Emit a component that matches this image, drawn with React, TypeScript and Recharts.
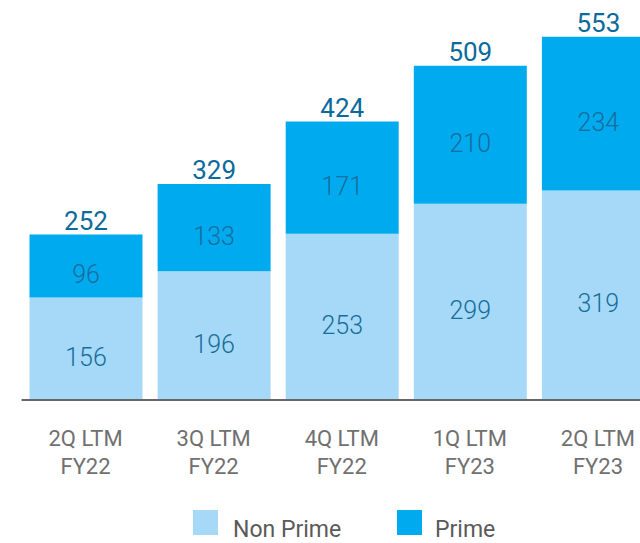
import React from "react";
import { BarChart, Bar, XAxis, YAxis, LabelList, Legend } from "recharts";

const categories = ["2Q LTM|FY22", "3Q LTM|FY22", "4Q LTM|FY22", "1Q LTM|FY23", "2Q LTM|FY23"];
const nonPrime = [156, 196, 253, 299, 319];
const prime = [96, 133, 171, 210, 234];
const totals = [252, 329, 424, 509, 553];

const data = categories.map((c, i) => ({
  name: c,
  nonPrime: nonPrime[i],
  prime: prime[i],
  total: totals[i],
}));

const FONT = "Roboto, 'Noto Sans', sans-serif";
const LIGHT = "#a6d9f7";
const DARK = "#00aaef";
const INNER_TEXT = "#176d9c";
const TOTAL_TEXT = "#0b6a9c";
const GRAY = "#707070";

const InnerLabel = (props: any) => {
  const { x, y, width, height, value } = props;
  return (
    <text
      x={x + width / 2}
      y={y + height / 2 + 17}
      textAnchor="middle"
      fontFamily={FONT}
      fontWeight={300}
      fontSize={25}
      fill={INNER_TEXT}
    >
      {value}
    </text>
  );
};

const TotalLabel = (props: any) => {
  const { x, y, width, index } = props;
  return (
    <text
      x={x + width / 2}
      y={y - 5}
      textAnchor="middle"
      fontFamily={FONT}
      fontWeight={400}
      fontSize={26}
      fill={TOTAL_TEXT}
    >
      {totals[index]}
    </text>
  );
};

const Tick = (props: any) => {
  const { x, payload } = props;
  const [l1, l2] = String(payload.value).split("|");
  return (
    <text x={x} textAnchor="middle" fontFamily={FONT} fontSize={22} fill={GRAY}>
      <tspan x={x} y={446}>{l1}</tspan>
      <tspan x={x} y={474}>{l2}</tspan>
    </text>
  );
};

const LegendContent = () => (
  <div style={{ position: "relative", width: 640, height: 43, fontFamily: FONT, fontSize: 23, color: "#5a5a5a" }}>
    <div style={{ position: "absolute", left: 193, top: 10, width: 25, height: 25, background: LIGHT }} />
    <div style={{ position: "absolute", left: 233, top: 17, lineHeight: "26px", whiteSpace: "nowrap" }}>Non Prime</div>
    <div style={{ position: "absolute", left: 397, top: 10, width: 25, height: 25, background: DARK }} />
    <div style={{ position: "absolute", left: 435, top: 17, lineHeight: "26px", whiteSpace: "nowrap" }}>Prime</div>
  </div>
);

export default function App() {
  return (
    <div style={{ position: "absolute", left: 0, top: 0, width: 640, height: 543, overflow: "hidden", background: "#fff" }}>
      <BarChart
        width={662}
        height={543}
        data={data}
        margin={{ top: 6, right: 0, left: 21.5, bottom: 40 }}
        barSize={113}
      >
        <YAxis hide domain={[0, 600]} />
        <XAxis
          dataKey="name"
          axisLine={{ stroke: "#666", strokeWidth: 2 }}
          tickLine={false}
          tick={<Tick />}
          interval={0}
          height={60}
        />
        <Bar dataKey="nonPrime" stackId="a" fill={LIGHT} isAnimationActive={false}>
          <LabelList dataKey="nonPrime" content={<InnerLabel />} />
        </Bar>
        <Bar dataKey="prime" stackId="a" fill={DARK} isAnimationActive={false}>
          <LabelList dataKey="prime" content={<InnerLabel />} />
          <LabelList dataKey="total" content={<TotalLabel />} />
        </Bar>
        <Legend
          content={<LegendContent />}
          wrapperStyle={{ position: "absolute", left: 0, top: 500, width: 640, height: 43 }}
        />
      </BarChart>
    </div>
  );
}
